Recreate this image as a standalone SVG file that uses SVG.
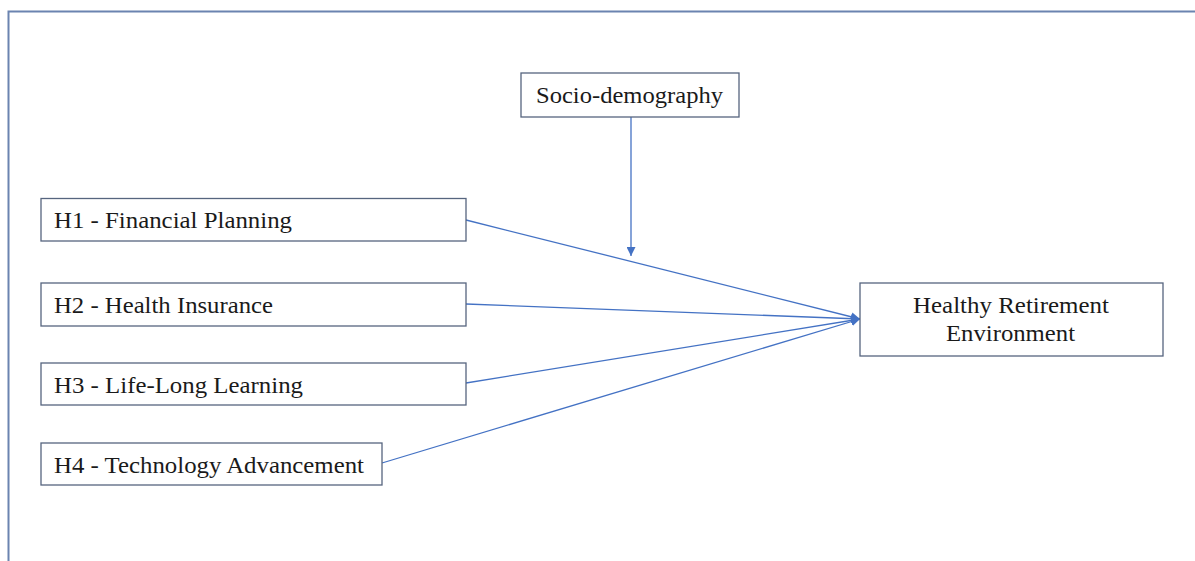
<svg xmlns="http://www.w3.org/2000/svg" width="1195" height="561" viewBox="0 0 1195 561">
<style>
.box{fill:#fff;stroke:#56657f;stroke-width:1.3}
.t{font-family:"Liberation Serif","Times New Roman",serif;font-size:23.5px;fill:#1a1a1a}
.c{stroke:#4472c4;stroke-width:1.3;fill:none}
</style>
<defs>
<marker id="ah" viewBox="0 0 10 10" refX="10" refY="5" markerWidth="9" markerHeight="9" markerUnits="userSpaceOnUse" orient="auto">
<path d="M0,0 L10,5 L0,10 z" fill="#4472c4"/>
</marker>
</defs>
<rect width="1195" height="561" fill="#fff"/>
<path d="M8.5,561 V11.5 H1195" fill="none" stroke="#6b84b0" stroke-width="2"/>
<g id="connectors">
<line class="c" x1="631" y1="117" x2="631" y2="256" marker-end="url(#ah)"/>
<line class="c" x1="466" y1="220" x2="860" y2="319" marker-end="url(#ah)"/>
<line class="c" x1="466" y1="304" x2="860" y2="319" marker-end="url(#ah)"/>
<line class="c" x1="466" y1="383" x2="860" y2="319" marker-end="url(#ah)"/>
<line class="c" x1="382" y1="463" x2="860" y2="319" marker-end="url(#ah)"/>
</g>
<g id="socio">
<rect class="box" x="521" y="73" width="218" height="44"/>
<text class="t" x="536" y="103.3" textLength="187" lengthAdjust="spacingAndGlyphs">Socio-demography</text>
</g>
<g id="h1">
<rect class="box" x="41" y="198.5" width="425" height="42.5"/>
<text class="t" x="54" y="228.3" textLength="238" lengthAdjust="spacingAndGlyphs">H1 - Financial Planning</text>
</g>
<g id="h2">
<rect class="box" x="41" y="283" width="425" height="43"/>
<text class="t" x="54" y="313.3" textLength="219" lengthAdjust="spacingAndGlyphs">H2 - Health Insurance</text>
</g>
<g id="h3">
<rect class="box" x="41" y="363" width="425" height="42"/>
<text class="t" x="54" y="393.3" textLength="249" lengthAdjust="spacingAndGlyphs">H3 - Life-Long Learning</text>
</g>
<g id="h4">
<rect class="box" x="41" y="443" width="341" height="42"/>
<text class="t" x="54" y="473" textLength="310" lengthAdjust="spacingAndGlyphs">H4 - Technology Advancement</text>
</g>
<g id="hre">
<rect class="box" x="860" y="283" width="303" height="73"/>
<text class="t" x="913" y="312.7" textLength="196" lengthAdjust="spacingAndGlyphs">Healthy Retirement</text>
<text class="t" x="946" y="341" textLength="129" lengthAdjust="spacingAndGlyphs">Environment</text>
</g>
</svg>
